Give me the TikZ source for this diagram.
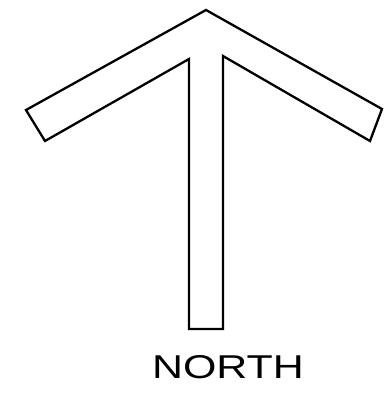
\documentclass[tikz,border=0pt]{standalone}
\usepackage{fontspec}
\newfontfamily\letterfont{Liberation Sans}
\begin{document}
\begin{tikzpicture}[x=1pt,y=-1pt,
  arrowline/.style={line width=2.3pt,line join=miter,draw=black},
  label/.style={font=\letterfont\fontsize{33}{33}\selectfont,inner sep=0pt,anchor=base}]
\useasboundingbox (0,0) rectangle (384,410);
\fill[white] (0,0) rectangle (384,410);
\coordinate (lt) at (26,110);
\coordinate (apex) at (206,10);
\coordinate (rt) at (382,109);
\coordinate (rb) at (370,141);
\coordinate (ri) at (223,56);
\coordinate (sr) at (223,329);
\coordinate (sl) at (189,329);
\coordinate (li) at (189,59);
\coordinate (lb) at (45,141);
\draw[arrowline] (lt) -- (apex) -- (rt) -- (rb) -- (ri) -- (sr) -- (sl) -- (li) -- (lb) -- cycle;
\node[label,xscale=1.3] (north) at (228,378) {NORTH};
\end{tikzpicture}
\end{document}
